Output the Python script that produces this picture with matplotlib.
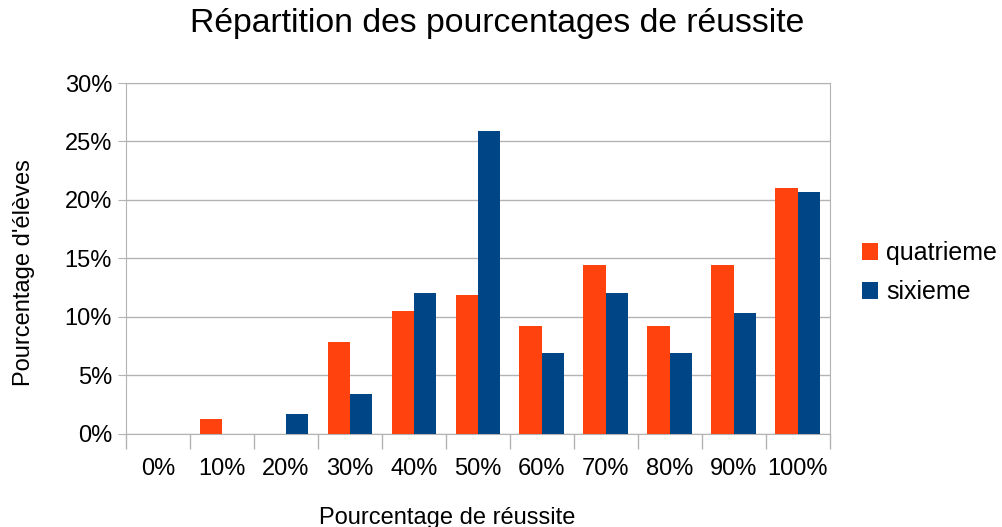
import matplotlib.pyplot as plt
import numpy as np
from matplotlib.ticker import PercentFormatter

plt.rcParams['font.family'] = ['Liberation Sans', 'DejaVu Sans']

# --- Data ---
categories = ["0%", "10%", "20%", "30%", "40%", "50%", "60%", "70%", "80%", "90%", "100%"]
quatrieme = [0.0, 1.32, 0.0, 7.89, 10.53, 11.84, 9.21, 14.47, 9.21, 14.47, 21.05]
sixieme = [0.0, 0.0, 1.72, 3.45, 12.07, 25.86, 6.90, 12.07, 6.90, 10.34, 20.69]
y_ticks = [0, 5, 10, 15, 20, 25, 30]

# --- Plot ---
fig = plt.figure(figsize=(10.02, 5.27), dpi=100)
ax = fig.add_axes([0.1257, 0.1765, 0.7025, 0.666])

x = np.arange(len(categories))
w = 0.35
ax.bar(x - w / 2, quatrieme, width=w, color="#ff420e", label="quatrieme", zorder=3)
ax.bar(x + w / 2, sixieme, width=w, color="#004586", label="sixieme", zorder=3)

ax.set_xlim(-0.5, len(categories) - 0.5)
ax.set_ylim(0, 30)
ax.set_yticks(y_ticks)
ax.yaxis.set_major_formatter(PercentFormatter(decimals=0))
ax.set_xticks(x)
ax.set_xticklabels(categories)
ax.set_xticks(np.arange(-0.5, len(categories)), minor=True)

ax.tick_params(axis="x", which="major", length=0, pad=17, labelsize=17)
ax.tick_params(axis="x", which="minor", length=11, color="#b3b3b3", width=1)
ax.tick_params(axis="y", length=6, color="#b3b3b3", labelsize=17, pad=4)

ax.grid(axis="y", color="#b3b3b3", linewidth=1, zorder=0)
for s in ax.spines.values():
    s.set_color("#b3b3b3")

fig.suptitle("Répartition des pourcentages de réussite", fontsize=24.3, x=0.496, y=0.985)
fig.text(0.446, 0.018, "Pourcentage de réussite", fontsize=17, ha="center", va="center")
fig.text(0.024, 0.482, "Pourcentage d'élèves", fontsize=17, ha="center", va="center", rotation=90)

fig.legend(loc="center left", bbox_to_anchor=(0.850, 0.482), frameon=False, fontsize=18,
           handlelength=0.65, handleheight=0.65, handletextpad=0.32, labelspacing=0.6,
           borderaxespad=0)

fig.savefig("out.png", dpi=100)
